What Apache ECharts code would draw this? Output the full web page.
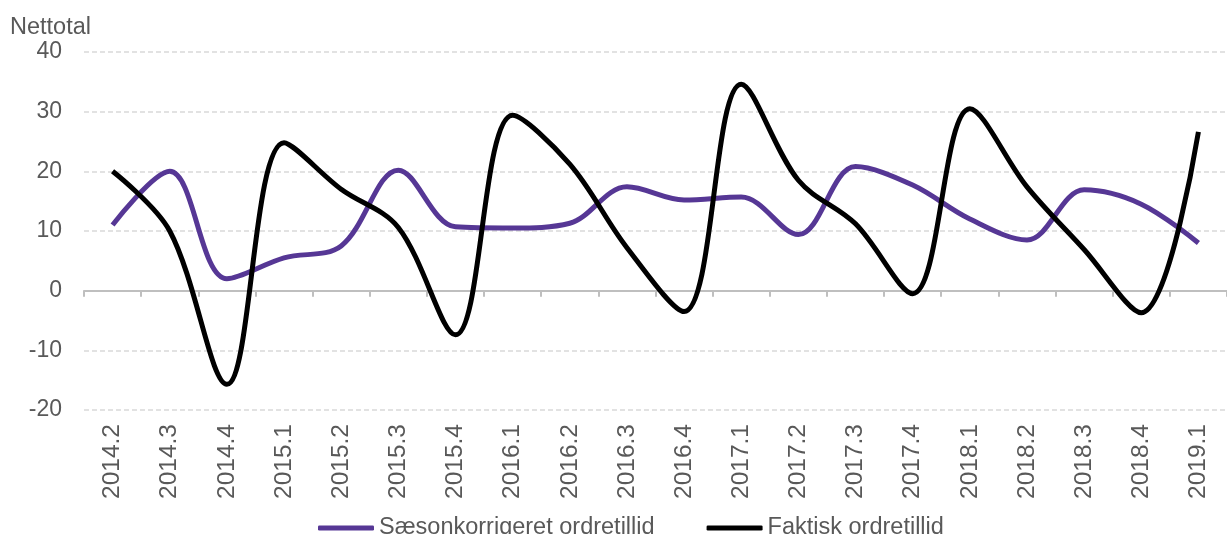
<!DOCTYPE html>
<html>
<head>
<meta charset="utf-8">
<script src="https://cdn.jsdelivr.net/npm/echarts@6/dist/echarts.min.js"></script>
<style>
  html, body { margin: 0; padding: 0; background: #fff; }
  #chart { width: 1227px; height: 534px; }
</style>
</head>
<body>
<div id="chart"></div>
<script>
// kvartaler
var quarters = ["2014.2", "2014.3", "2014.4", "2015.1", "2015.2", "2015.3", "2015.4",
  "2016.1", "2016.2", "2016.3", "2016.4", "2017.1", "2017.2", "2017.3", "2017.4",
  "2018.1", "2018.2", "2018.3", "2018.4", "2019.1"];

var saeson = [11, 20, 2, 5.5, 7.5, 20.2, 10.7, 10.5, 11.3, 17.4, 15.2, 15.7, 9.4, 20.8,
  17.7, 12, 8.5, 16.9, 14.5, 8];

var faktisk = [20, 10, -15.7, 24.8, 17, 10.6, -7.4, 29.4, 21.2, 7.2, -3.5, 34.6, 18.5,
  11.2, -0.5, 30.5, 17.4, 6.9, -3.7, 26.6];

var textColor = "#595959";
var fontFam = "Liberation Sans, Arial, sans-serif";

var chart = echarts.init(document.getElementById("chart"));
chart.setOption({
  animation: false,
  title: {
    text: "Nettotal",
    left: 5,
    top: 11,
    textStyle: { fontSize: 23.5, fontWeight: "normal", color: textColor, fontFamily: fontFam },
  },
  legend: {
    top: 511,
    left: 313,
    icon: "roundRect",
    itemWidth: 56,
    itemHeight: 5,
    itemGap: 52,
    textStyle: { fontSize: 23.5, color: textColor, fontFamily: fontFam },
    data: ["Sæsonkorrigeret ordretillid", "Faktisk ordretillid"],
  },
  grid: { left: 84, right: -10, top: 52, bottom: 124 },
  xAxis: [
    {
      type: "category",
      data: quarters,
      boundaryGap: true,
      axisLine: { onZero: true, lineStyle: { color: "#bfbfbf", width: 2 } },
      axisTick: { show: true, length: 6, interval: 0, lineStyle: { color: "#bfbfbf", width: 2 } },
      axisLabel: { show: false },
      splitLine: { show: false },
    },
    {
      type: "category",
      data: quarters,
      boundaryGap: true,
      position: "bottom",
      axisLine: { show: false, onZero: false },
      axisTick: { show: false },
      axisLabel: {
        interval: 0,
        rotate: 90,
        margin: 14,
        fontSize: 24.5,
        color: textColor,
        fontFamily: fontFam,
      },
    },
  ],
  yAxis: {
    type: "value",
    min: -20,
    max: 40,
    interval: 10,
    axisLine: { show: false },
    axisTick: { show: false },
    axisLabel: { fontSize: 23, color: textColor, margin: 22, fontFamily: fontFam },
    splitLine: { lineStyle: { color: "#d9d9d9", type: [5, 3], width: 1.5 } },
  },
  series: [
    {
      name: "Sæsonkorrigeret ordretillid",
      type: "line",
      xAxisIndex: 0,
      data: saeson,
      smooth: 0.35,
      symbol: "none",
      lineStyle: { color: "#563795", width: 5 },
      itemStyle: { color: "#563795" },
    },
    {
      name: "Faktisk ordretillid",
      type: "line",
      xAxisIndex: 0,
      data: faktisk,
      smooth: 0.35,
      symbol: "none",
      lineStyle: { color: "#000000", width: 5 },
      itemStyle: { color: "#000000" },
    },
  ],
});
</script>
</body>
</html>
